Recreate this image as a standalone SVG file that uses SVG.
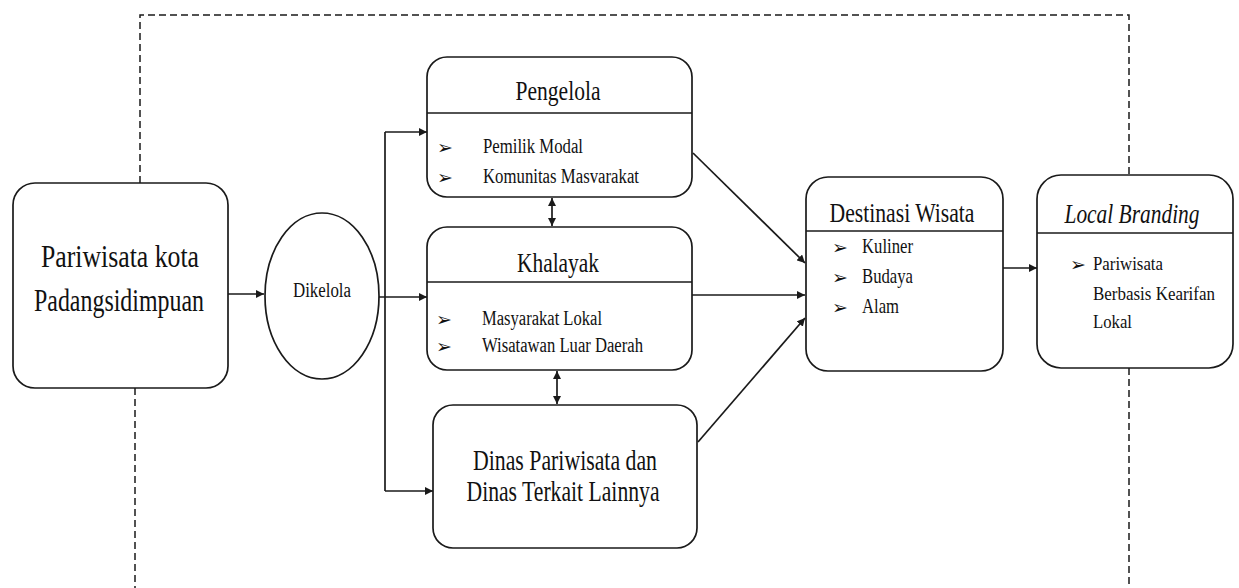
<svg xmlns="http://www.w3.org/2000/svg" width="1239" height="588" viewBox="0 0 1239 588">
<style>
.box{fill:#fff;stroke:#1a1a1a;stroke-width:1.7}
.div{stroke:#1a1a1a;stroke-width:1.5}
.con{fill:none;stroke:#1a1a1a;stroke-width:1.7}
.dash{fill:none;stroke:#1a1a1a;stroke-width:1.5;stroke-dasharray:7 4}
text{fill:#111}
.b{font-family:'DejaVu Sans',sans-serif;font-size:19px}
</style>
<defs>
<marker id="ah" viewBox="0 0 10 10" refX="10" refY="5" markerWidth="8" markerHeight="8" markerUnits="userSpaceOnUse" orient="auto-start-reverse">
<path d="M0,0 L10,5 L0,10 z" fill="#1a1a1a"/>
</marker>
</defs>
<rect width="1239" height="588" fill="#fff"/>
<g id="boundary">
<path class="dash" d="M140,183 V15 H1129 V175"/>
<path class="dash" d="M1129,368 V588"/>
<path class="dash" d="M135,388 V588"/>
</g>
<g id="connectors">
<line class="con" x1="228" y1="294" x2="264" y2="294" marker-end="url(#ah)"/>
<line class="con" x1="385" y1="132" x2="385" y2="491"/>
<line class="con" x1="385" y1="132" x2="427" y2="132" marker-end="url(#ah)"/>
<line class="con" x1="379" y1="297" x2="427" y2="297" marker-end="url(#ah)"/>
<line class="con" x1="385" y1="491" x2="433" y2="491" marker-end="url(#ah)"/>
<line class="con" x1="552" y1="198" x2="552" y2="226" marker-start="url(#ah)" marker-end="url(#ah)"/>
<line class="con" x1="557" y1="371" x2="557" y2="404" marker-start="url(#ah)" marker-end="url(#ah)"/>
<line class="con" x1="693" y1="153" x2="805" y2="263" marker-end="url(#ah)"/>
<line class="con" x1="692" y1="295" x2="805" y2="295" marker-end="url(#ah)"/>
<line class="con" x1="698" y1="442" x2="805" y2="318" marker-end="url(#ah)"/>
<line class="con" x1="1003" y1="268" x2="1037" y2="268" marker-end="url(#ah)"/>
</g>
<g font-family="Liberation Serif, Times New Roman, serif">
<g id="pariwisata-kota">
<rect class="box" x="13" y="183" width="215" height="205" rx="22"/>
<text x="120" y="267" font-size="32" text-anchor="middle" textLength="158" lengthAdjust="spacingAndGlyphs">Pariwisata kota</text>
<text x="119" y="311" font-size="32" text-anchor="middle" textLength="170" lengthAdjust="spacingAndGlyphs">Padangsidimpuan</text>
</g>
<g id="dikelola">
<ellipse class="box" cx="322" cy="296" rx="57" ry="83"/>
<text x="322" y="297" font-size="20" text-anchor="middle" textLength="58" lengthAdjust="spacingAndGlyphs">Dikelola</text>
</g>
<g id="pengelola">
<rect class="box" x="427" y="57" width="265" height="140" rx="20"/>
<line class="div" x1="427" y1="113" x2="692" y2="113"/>
<text x="558" y="100" font-size="27" text-anchor="middle" textLength="85" lengthAdjust="spacingAndGlyphs">Pengelola</text>
<text class="b" x="437" y="154">➢</text>
<text x="483" y="153" font-size="20" textLength="100" lengthAdjust="spacingAndGlyphs">Pemilik Modal</text>
<text class="b" x="437" y="184">➢</text>
<text x="483" y="183" font-size="20" textLength="156" lengthAdjust="spacingAndGlyphs">Komunitas Masvarakat</text>
</g>
<g id="khalayak">
<rect class="box" x="427" y="227" width="265" height="143" rx="20"/>
<line class="div" x1="427" y1="282" x2="692" y2="282"/>
<text x="558" y="272" font-size="27" text-anchor="middle" textLength="82" lengthAdjust="spacingAndGlyphs">Khalayak</text>
<text class="b" x="436" y="326">➢</text>
<text x="482" y="325" font-size="20" textLength="120" lengthAdjust="spacingAndGlyphs">Masyarakat Lokal</text>
<text class="b" x="436" y="353">➢</text>
<text x="482" y="352" font-size="20" textLength="161" lengthAdjust="spacingAndGlyphs">Wisatawan Luar Daerah</text>
</g>
<g id="dinas">
<rect class="box" x="433" y="405" width="264" height="143" rx="20"/>
<text x="565" y="470" font-size="29" text-anchor="middle" textLength="184" lengthAdjust="spacingAndGlyphs">Dinas Pariwisata dan</text>
<text x="563" y="501" font-size="29" text-anchor="middle" textLength="193" lengthAdjust="spacingAndGlyphs">Dinas Terkait Lainnya</text>
</g>
<g id="destinasi-wisata">
<rect class="box" x="806" y="177" width="197" height="194" rx="22"/>
<line class="div" x1="806" y1="231" x2="1003" y2="231"/>
<text x="902" y="222" font-size="28" text-anchor="middle" textLength="145" lengthAdjust="spacingAndGlyphs">Destinasi Wisata</text>
<text class="b" x="832" y="254">➢</text>
<text x="862" y="253" font-size="22" textLength="51" lengthAdjust="spacingAndGlyphs">Kuliner</text>
<text class="b" x="832" y="284">➢</text>
<text x="862" y="283" font-size="22" textLength="51" lengthAdjust="spacingAndGlyphs">Budaya</text>
<text class="b" x="832" y="314">➢</text>
<text x="862" y="313" font-size="22" textLength="37" lengthAdjust="spacingAndGlyphs">Alam</text>
</g>
<g id="local-branding">
<rect class="box" x="1037" y="175" width="196" height="193" rx="24"/>
<line class="div" x1="1037" y1="233" x2="1233" y2="233"/>
<text x="1132" y="223" font-size="28" font-style="italic" text-anchor="middle" textLength="135" lengthAdjust="spacingAndGlyphs">Local Branding</text>
<text class="b" x="1070" y="271">➢</text>
<text x="1093" y="270" font-size="18" textLength="70" lengthAdjust="spacingAndGlyphs">Pariwisata</text>
<text x="1093" y="300" font-size="18" textLength="122" lengthAdjust="spacingAndGlyphs">Berbasis Kearifan</text>
<text x="1093" y="328" font-size="18" textLength="39" lengthAdjust="spacingAndGlyphs">Lokal</text>
</g>
</g>
</svg>
